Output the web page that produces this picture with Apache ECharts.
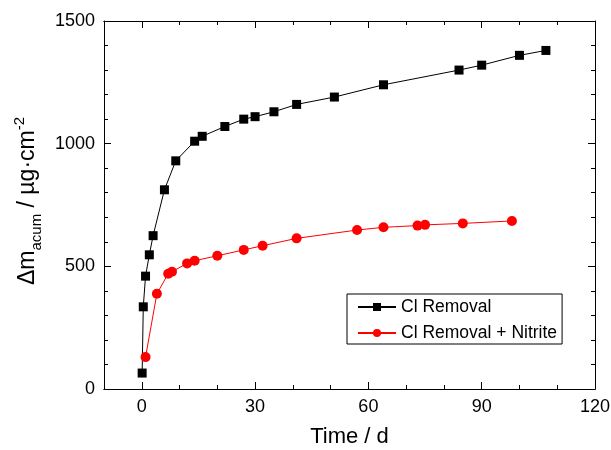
<!DOCTYPE html>
<html>
<head>
<meta charset="utf-8">
<script src="https://cdn.jsdelivr.net/npm/echarts@6/dist/echarts.min.js"></script>
<style>html,body{margin:0;padding:0;background:#fff}#c{width:611px;height:450px}</style>
</head>
<body>
<div id="c"></div>
<script>
// Data
const clRemovalTime = [0.1, 0.4, 1, 2, 3, 6, 9, 14, 16, 22, 27, 30, 35, 41, 51, 64, 84, 90, 100, 107];
const clRemovalMass = [65, 335, 460, 547, 625, 812, 930, 1010, 1030, 1070, 1100, 1110, 1130, 1160, 1190, 1240, 1300, 1320, 1360, 1380];
const nitriteTime = [1, 4, 7, 8, 12, 14, 20, 27, 32, 41, 57, 64, 73, 75, 85, 98];
const nitriteMass = [130, 388, 470, 478, 512, 523, 543, 567, 584, 614, 648, 659, 666, 669, 675, 685];
const seriesNames = ['Cl Removal', 'Cl Removal + Nitrite'];
const xMajorTicks = [0, 30, 60, 90, 120];
const xMinorTicks = [-10, 10, 20, 40, 50, 70, 80, 100, 110];

const FONT = 'Arial, "Liberation Sans", sans-serif';
const pairs = (xs, ys) => xs.map((x, i) => [x, ys[i]]);

const xBase = {type: 'value', min: -10, max: 120, scale: false,
  axisLine: {show: true, onZero: false, lineStyle: {color: '#000', width: 1}},
  splitLine: {show: false}};
function xAx(position, ticks, len, labels) {
  return Object.assign({}, xBase, {
    position: position,
    axisTick: {show: true, inside: true, length: len, customValues: ticks, lineStyle: {color: '#000', width: 1}},
    axisLabel: labels ? {show: true, customValues: xMajorTicks, fontSize: 18, color: '#000', fontFamily: FONT, margin: 9,
                         formatter: v => String(v)}
                      : {show: false}
  });
}
const axisX = [
  Object.assign(xAx('bottom', xMajorTicks, 7, true), {
    name: 'Time / d', nameLocation: 'middle', nameGap: 37,
    nameTextStyle: {fontSize: 22, color: '#000', fontFamily: FONT}
  }),
  xAx('bottom', xMinorTicks, 4, false),
  xAx('top', xMajorTicks, 7, false),
  xAx('top', xMinorTicks, 4, false)
];
function yAx(position, labels) {
  return {
    type: 'value', min: 0, max: 1500, interval: 500, position: position,
    axisLine: {show: true, onZero: false, lineStyle: {color: '#000', width: 1}},
    axisTick: {show: true, inside: true, length: 7, lineStyle: {color: '#000', width: 1}},
    minorTick: {show: true, splitNumber: 5, length: 4, lineStyle: {color: '#000', width: 1}},
    splitLine: {show: false},
    axisLabel: labels ? {show: true, fontSize: 18, color: '#000', fontFamily: FONT, margin: 9,
                         formatter: v => String(v)} : {show: false}
  };
}
const axisY = [
  Object.assign(yAx('left', true), {
    name: '{n|Δm}{sub|acum}{n| / µg·cm}{sup|-2}',
    nameLocation: 'middle', nameRotate: 90, nameGap: 49,
    nameTextStyle: {
      fontFamily: FONT, color: '#000', padding: [0, 0, 0, 8],
      rich: {
        n: {fontSize: 23, fontFamily: FONT, color: '#000', lineHeight: 32},
        sub: {fontSize: 15, fontFamily: FONT, color: '#000', verticalAlign: 'bottom', lineHeight: 32},
        sup: {fontSize: 15, fontFamily: FONT, color: '#000', verticalAlign: 'top', lineHeight: 32}
      }
    }
  }),
  yAx('right', false)
];

const chart = echarts.init(document.getElementById('c'), null, {renderer: 'canvas'});
chart.setOption({
  animation: false,
  backgroundColor: '#fff',
  grid: {left: 104, right: 16, top: 21, bottom: 61, containLabel: false, outerBoundsMode: 'none'},
  xAxis: axisX,
  yAxis: axisY,
  legend: {
    orient: 'vertical', left: 347, top: 294,
    data: seriesNames,
    borderColor: '#000', borderWidth: 1, borderRadius: 0,
    padding: [4, 5, 2, 10], itemGap: 8, itemWidth: 38, itemHeight: 10,
    textStyle: {fontSize: 17.5, color: '#000', fontFamily: FONT}
  },
  series: [
    {name: seriesNames[0], type: 'line', xAxisIndex: 0, yAxisIndex: 0,
     data: pairs(clRemovalTime, clRemovalMass),
     symbol: 'rect', symbolSize: 9, showAllSymbol: true,
     lineStyle: {color: '#000', width: 1}, itemStyle: {color: '#000'}},
    {name: seriesNames[1], type: 'line', xAxisIndex: 0, yAxisIndex: 0,
     data: pairs(nitriteTime, nitriteMass),
     symbol: 'circle', symbolSize: 10, showAllSymbol: true,
     lineStyle: {color: '#ff0000', width: 1}, itemStyle: {color: '#ff0000'}}
  ]
});
</script>
</body>
</html>
